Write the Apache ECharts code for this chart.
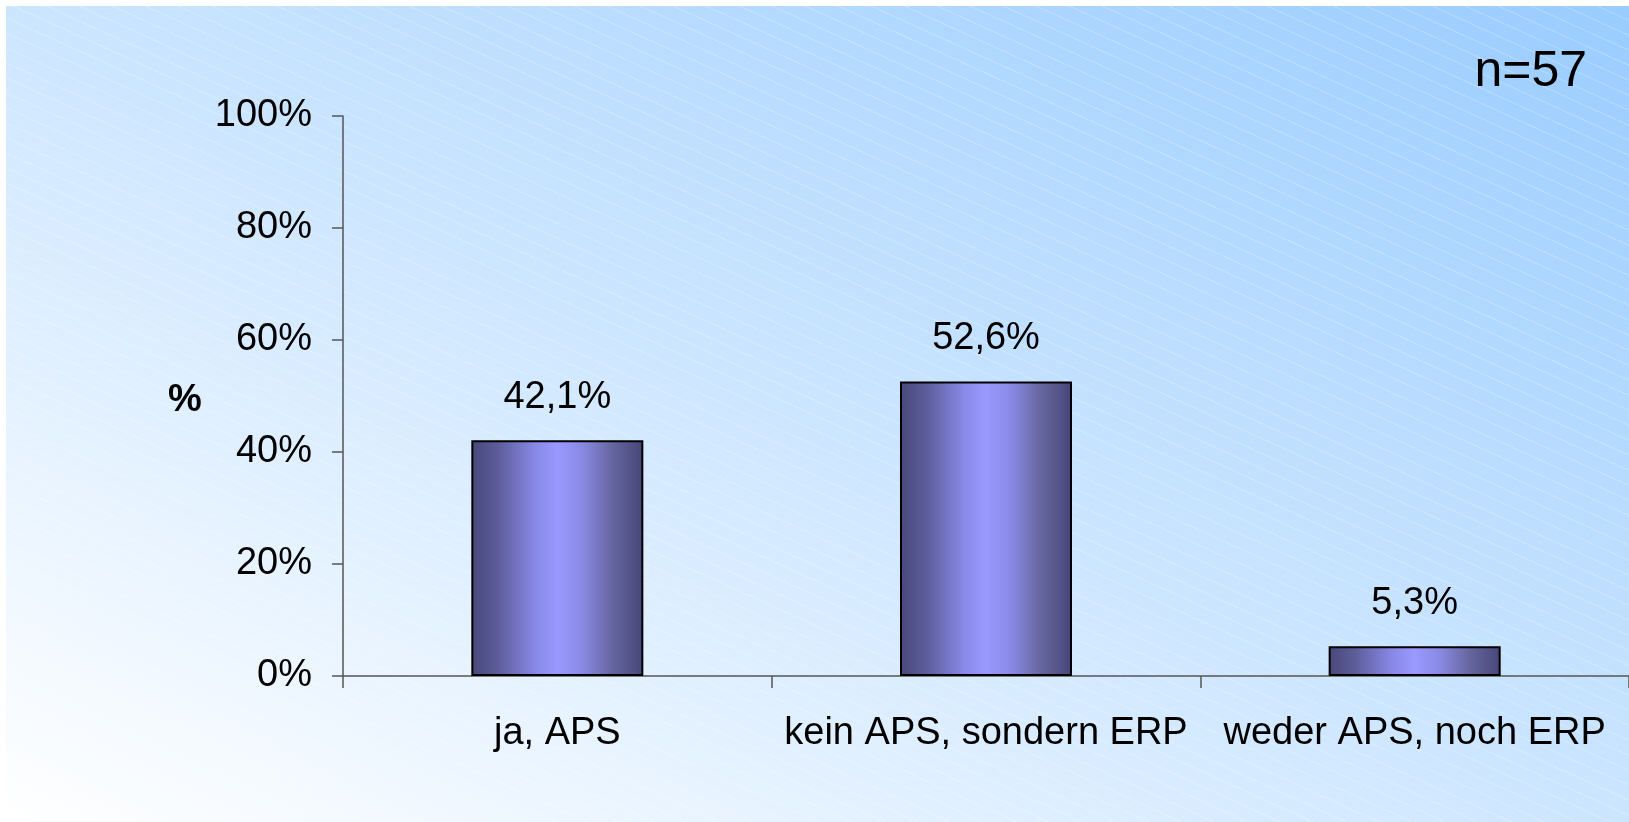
<!DOCTYPE html>
<html>
<head>
<meta charset="utf-8">
<script src="https://cdn.jsdelivr.net/npm/echarts@6/dist/echarts.min.js"></script>
<style>
  html, body { margin: 0; padding: 0; background: #fff; }
  #chart { width: 1629px; height: 822px; }
</style>
</head>
<body>
<div id="chart"></div>
<script>
// data
const categories = ['ja, APS', 'kein APS, sondern ERP', 'weder APS, noch ERP'];
const shares = [42.1, 52.6, 5.3];
const sampleSize = 57;

const W = 1629, H = 822;
const FONT = '"Liberation Sans", Arial, sans-serif';

const myChart = echarts.init(document.getElementById('chart'), null, { renderer: 'canvas' });

// faint diagonal stripes of the slide background
const tile = document.createElement('canvas');
tile.width = 33;
tile.height = 15;
const ctx = tile.getContext('2d');
ctx.strokeStyle = 'rgba(255,255,255,0.28)';
ctx.lineWidth = 1;
ctx.beginPath();
ctx.moveTo(-2.2, -1);
ctx.lineTo(35.2, 16);
ctx.stroke();

// background gradient: white bottom-left -> blue top-right, isolines along the other diagonal
const bx = 6, by = 6, bw = W - 6, bh = H - 6;
const L = Math.sqrt(bw * bw + bh * bh);
const half = bw * bh / L;
const ux = bh / L, uy = -bw / L;
const cx = bx + bw / 2, cy = by + bh / 2;
const bgGradient = new echarts.graphic.LinearGradient(
  cx - half * ux, cy - half * uy, cx + half * ux, cy + half * uy,
  [
    { offset: 0, color: '#ffffff' },
    { offset: 1, color: '#99ccff' },
  ],
  true
);

const barColor = new echarts.graphic.LinearGradient(0, 0, 1, 0, [
  { offset: 0, color: '#48487a' },
  { offset: 0.15, color: '#5c5c9a' },
  { offset: 0.38, color: '#8a8aea' },
  { offset: 0.5, color: '#9999ff' },
  { offset: 0.64, color: '#8a8ae6' },
  { offset: 0.82, color: '#66669f' },
  { offset: 1, color: '#46467a' },
]);

const option = {
  backgroundColor: '#ffffff',
  animation: false,
  textStyle: { fontFamily: FONT },
  title: [
    {
      text: 'n=' + sampleSize,
      right: 42,
      top: 47,
      padding: 0,
      textStyle: { fontFamily: FONT, fontSize: 50, fontWeight: 'normal', color: '#000' },
    },
    {
      text: '%',
      left: 168,
      top: 382,
      padding: 0,
      textStyle: { fontFamily: FONT, fontSize: 38, fontWeight: 'bold', color: '#000' },
    },
  ],
  graphic: [
    {
      type: 'rect',
      silent: true,
      z: -100,
      shape: { x: bx, y: by, width: bw, height: bh },
      style: { fill: bgGradient },
    },
    {
      type: 'rect',
      silent: true,
      z: -99,
      shape: { x: bx, y: by, width: bw, height: bh },
      style: { fill: { image: tile, repeat: 'repeat' } },
    },
  ],
  grid: {
    left: 343,
    top: 116,
    width: 1290,
    bottom: 146,
    containLabel: false,
  },
  xAxis: {
    type: 'category',
    data: categories,
    axisLine: { lineStyle: { color: '#555', width: 1.5 } },
    axisTick: { show: true, interval: 0, length: 12, lineStyle: { color: '#555', width: 1.5 } },
    axisLabel: {
      interval: 0,
      hideOverlap: false,
      margin: 39,
      fontFamily: FONT,
      fontSize: 38,
      lineHeight: 38,
      color: '#000',
    },
  },
  yAxis: {
    type: 'value',
    min: 0,
    max: 100,
    interval: 20,
    splitLine: { show: false },
    axisLine: { show: true, lineStyle: { color: '#555', width: 1.5 } },
    axisTick: { show: true, length: 11, lineStyle: { color: '#555', width: 1.5 } },
    axisLabel: {
      formatter: '{value}%',
      margin: 31,
      fontFamily: FONT,
      fontSize: 38,
      color: '#000',
    },
  },
  series: [
    {
      type: 'bar',
      data: shares,
      barWidth: 172,
      itemStyle: {
        color: barColor,
        borderColor: '#000',
        borderWidth: 2,
      },
      label: {
        show: true,
        position: 'top',
        distance: 24,
        fontFamily: FONT,
        fontSize: 38,
        lineHeight: 38,
        color: '#000',
        formatter: (p) => p.value.toFixed(1).replace('.', ',') + '%',
      },
    },
  ],
};

myChart.setOption(option);
window.addEventListener('resize', myChart.resize);
</script>
</body>
</html>
